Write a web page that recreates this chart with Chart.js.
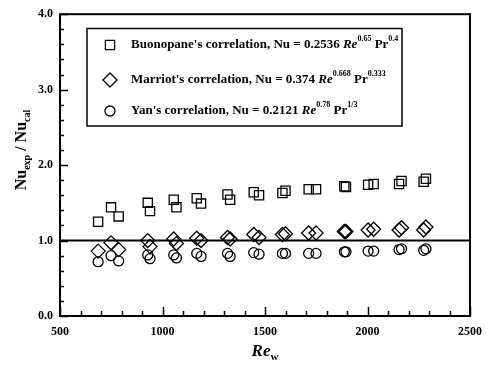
<!DOCTYPE html>
<html>
<head>
<meta charset="utf-8">
<script src="https://cdn.jsdelivr.net/npm/chart.js@4.4.0/dist/chart.umd.min.js"></script>
<style>
  html, body { margin: 0; padding: 0; background: #fff; }
  #wrap { width: 491px; height: 370px; position: relative; }
</style>
</head>
<body>
<div id="wrap"><canvas id="nuChart"></canvas></div>
<script>
// Wall Reynolds number of each run
const reynolds = [686, 749, 786, 928, 939, 1055, 1068, 1167, 1188, 1317, 1330, 1445, 1471,
                  1585, 1600, 1713, 1749, 1887, 1895, 2003, 2030, 2154, 2166, 2274, 2285];
// Nu_exp / Nu_cal against each correlation
const ratioBuonopane = [1.25, 1.44, 1.32, 1.50, 1.39, 1.54, 1.44, 1.56, 1.49, 1.61, 1.54, 1.64, 1.60,
                        1.63, 1.66, 1.68, 1.68, 1.72, 1.71, 1.74, 1.75, 1.75, 1.79, 1.78, 1.82];
const ratioMarriot = [0.86, 0.97, 0.88, 1.00, 0.92, 1.02, 0.96, 1.03, 1.00, 1.04, 1.02, 1.08, 1.04,
                      1.08, 1.09, 1.10, 1.10, 1.12, 1.12, 1.14, 1.15, 1.14, 1.17, 1.14, 1.18];
const ratioYan = [0.72, 0.80, 0.73, 0.81, 0.76, 0.81, 0.77, 0.83, 0.79, 0.83, 0.79, 0.84, 0.82,
                  0.83, 0.83, 0.83, 0.83, 0.85, 0.85, 0.86, 0.86, 0.88, 0.89, 0.87, 0.89];

// legend text: name, coefficient, Re exponent, Pr exponent
const legendNames = ["Buonopane's correlation, Nu = ", "Marriot's correlation, Nu = ", "Yan's correlation, Nu = "];
const legendCoef = ["0.2536", "0.374", "0.2121"];
const legendReExp = ["0.65", "0.668", "0.78"];
const legendPrExp = ["0.4", "0.333", "1/3"];
const legendStyles = ['rect', 'rectRot', 'circle'];

const xTicks = [500, 1000, 1500, 2000, 2500];
const yTicks = [0, 1, 2, 3, 4];

const SERIF = '"Liberation Serif", "Times New Roman", serif';

function pts(ys) {
  return ys.map((y, i) => ({ x: reynolds[i], y: y }));
}

// draw a run of text pieces: [text, font, dy]
function richText(ctx, x, y, parts) {
  let cx = x;
  parts.forEach(p => {
    ctx.font = p[1];
    ctx.fillText(p[0], cx, y + (p[2] || 0));
    cx += ctx.measureText(p[0]).width;
  });
  return cx;
}
function richWidth(ctx, parts) {
  let w = 0;
  parts.forEach(p => { ctx.font = p[1]; w += ctx.measureText(p[0]).width; });
  return w;
}

const decorations = {
  id: 'decorations',
  afterDraw(chart) {
    const ctx = chart.ctx;
    const a = chart.chartArea;
    const xs = chart.scales.x, ys = chart.scales.y;
    ctx.save();
    ctx.strokeStyle = '#000';
    ctx.fillStyle = '#000';

    // frame
    ctx.lineWidth = 2;
    ctx.strokeRect(a.left, a.top, a.right - a.left, a.bottom - a.top);

    // inward ticks on left and bottom
    ctx.lineWidth = 1.5;
    ctx.beginPath();
    for (let v = 500; v <= 2500; v += 100) {
      const px = Math.round(xs.getPixelForValue(v)) + 0.5;
      const len = v % 500 === 0 ? 9 : 5;
      ctx.moveTo(px, a.bottom);
      ctx.lineTo(px, a.bottom - len);
    }
    for (let k = 0; k <= 20; k++) {
      const py = Math.round(ys.getPixelForValue(k * 0.2)) + 0.5;
      const len = k % 5 === 0 ? 8 : 4;
      ctx.moveTo(a.left, py);
      ctx.lineTo(a.left + len, py);
    }
    ctx.stroke();

    // x title: Re_w
    ctx.textBaseline = 'alphabetic';
    const xt = [['Re', 'italic bold 17px ' + SERIF, 0], ['w', 'bold 11px ' + SERIF, 4]];
    const xw = richWidth(ctx, xt);
    richText(ctx, (a.left + a.right) / 2 - xw / 2, 356, xt);

    // y title: Nu_exp / Nu_cal
    ctx.save();
    ctx.translate(26, 150);
    ctx.rotate(-Math.PI / 2);
    const yt = [['Nu', 'bold 16px ' + SERIF, 0], ['exp', 'bold 10px ' + SERIF, 4],
                [' / Nu', 'bold 16px ' + SERIF, 0], ['cal', 'bold 10px ' + SERIF, 4]];
    const yw = richWidth(ctx, yt);
    richText(ctx, -yw / 2, 0, yt);
    ctx.restore();

    // legend box
    ctx.lineWidth = 1.5;
    ctx.strokeRect(87, 28.5, 315, 97.5);
    const rows = [45, 80, 111];
    rows.forEach((ry, i) => {
      ctx.save();
      ctx.fillStyle = 'rgba(0,0,0,0)';
      ctx.strokeStyle = '#000';
      ctx.lineWidth = 1.3;
      Chart.helpers.drawPoint(ctx, {
        pointStyle: legendStyles[i],
        radius: legendStyles[i] === 'circle' ? 5 : (legendStyles[i] === 'rect' ? 6.5 : 7),
        borderWidth: 1.3
      }, 110, ry);
      ctx.restore();
      ctx.fillStyle = '#000';
      ctx.textBaseline = 'middle';
      const base = 'bold 13px ' + SERIF;
      richText(ctx, 131, ry, [
        [legendNames[i] + legendCoef[i] + ' ', base, 0],
        ['Re', 'italic ' + base, 0],
        [legendReExp[i], 'bold 8px ' + SERIF, -6],
        [' Pr', base, 0],
        [legendPrExp[i], 'bold 8px ' + SERIF, -6]
      ]);
    });
    ctx.restore();
  }
};

function series(ys, style, radius) {
  return {
    type: 'scatter',
    data: pts(ys),
    pointStyle: style,
    pointRadius: radius,
    pointHoverRadius: radius,
    pointBorderWidth: 1.3,
    pointBorderColor: '#000',
    pointBackgroundColor: 'rgba(0,0,0,0)'
  };
}

new Chart(document.getElementById('nuChart'), {
  type: 'scatter',
  data: {
    datasets: [
      series(ratioBuonopane, 'rect', 6.5),
      series(ratioMarriot, 'rectRot', 7),
      series(ratioYan, 'circle', 5),
      {
        type: 'line',
        data: [{ x: 500, y: 1 }, { x: 2500, y: 1 }],
        borderColor: '#000',
        borderWidth: 2,
        pointRadius: 0
      }
    ]
  },
  options: {
    responsive: true,
    maintainAspectRatio: false,
    animation: false,
    events: [],
    layout: { padding: { left: 0, top: 12, right: 13, bottom: 0 } },
    plugins: { legend: { display: false }, tooltip: { enabled: false } },
    scales: {
      x: {
        type: 'linear',
        min: 500,
        max: 2500,
        afterBuildTicks: s => { s.ticks = xTicks.map(v => ({ value: v })); },
        afterFit: s => { s.height = 54; },
        grid: { display: false, drawTicks: false },
        border: { display: false },
        ticks: {
          padding: 9,
          color: '#000',
          maxRotation: 0,
          font: { family: SERIF, size: 12, weight: 'bold' },
          callback: v => String(v)
        }
      },
      y: {
        type: 'linear',
        min: 0,
        max: 4,
        afterBuildTicks: s => { s.ticks = yTicks.map(v => ({ value: v })); },
        afterFit: s => { s.width = 60; },
        grid: { display: false, drawTicks: false },
        border: { display: false },
        ticks: {
          padding: 7,
          color: '#000',
          font: { family: SERIF, size: 12, weight: 'bold' },
          callback: v => Number(v).toFixed(1)
        }
      }
    }
  },
  plugins: [decorations]
});
</script>
</body>
</html>
